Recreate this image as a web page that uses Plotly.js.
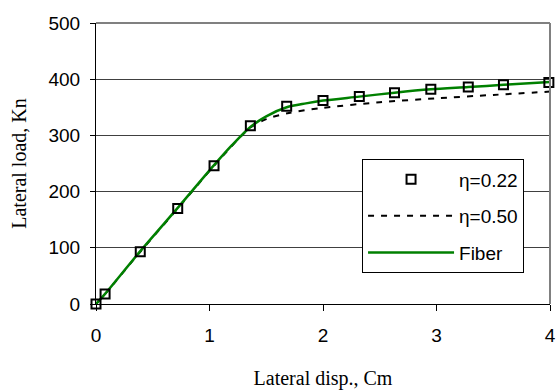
<!DOCTYPE html>
<html><head><meta charset="utf-8">
<script src="https://cdn.plot.ly/plotly-3.0.1.min.js"></script>
<style>html,body{margin:0;padding:0;background:#fff}#c{width:557px;height:390px}</style>
</head><body><div id="c"></div>
<script>
const eta22X = [0, 0.08, 0.39, 0.72, 1.04, 1.36, 1.68, 2.0, 2.32, 2.63, 2.95, 3.28, 3.59, 3.99];
const eta22Y = [0, 18, 93, 170, 246, 317, 352, 362, 369, 376, 382, 386, 390, 394];
const eta50X = [0, 0.08, 0.39, 0.72, 1.04, 1.36, 1.5, 1.7, 2.0, 2.5, 3.0, 3.5, 4.0];
const eta50Y = [0, 18, 93, 170, 246, 314, 329, 340, 349, 359, 366, 372, 378];
const fiberX = [0, 0.08, 0.39, 0.72, 1.04, 1.2, 1.36, 1.5, 1.68, 1.85, 2.0, 2.32, 2.63, 2.95, 3.28, 3.59, 4.0];
const fiberY = [0, 18, 94, 171, 247, 283, 315, 334, 350, 357, 362, 369, 376, 382, 386, 390, 395];
const xTicks = [0, 1, 2, 3, 4];
const yTicks = [0, 100, 200, 300, 400, 500];
const names = ['η=0.22', 'η=0.50', 'Fiber'];

const traces = [
  {x: eta50X, y: eta50Y, name: names[1], mode: 'lines', legendrank: 2, legendgroup: 'b',
   line: {color: '#000', width: 2, dash: '6px,7px', shape: 'spline', smoothing: 0.8}, cliponaxis: false},
  {x: fiberX, y: fiberY, name: names[2], mode: 'lines', legendrank: 3, legendgroup: 'c',
   line: {color: '#008000', width: 2.5, shape: 'spline', smoothing: 0.8}, cliponaxis: false},
  {x: eta22X, y: eta22Y, name: names[0], mode: 'markers', legendrank: 1, legendgroup: 'a',
   marker: {symbol: 'square-open', size: 9, color: '#000', line: {width: 2, color: '#000'}}, cliponaxis: false}
];

const layout = {
  width: 557, height: 390,
  margin: {l: 96, r: 7, t: 23, b: 86},
  paper_bgcolor: '#fff', plot_bgcolor: '#fff',
  font: {family: 'Liberation Sans, Arial, sans-serif', size: 19, color: '#000'},
  showlegend: true,
  legend: {x: 0.586, y: 0.515, xanchor: 'left', yanchor: 'top',
    bordercolor: '#000', borderwidth: 1, bgcolor: '#fff',
    font: {family: 'Liberation Sans, Arial, sans-serif', size: 19, color: '#000'},
    itemwidth: 86, tracegroupgap: 9, traceorder: 'grouped'},
  xaxis: {range: [0, 4], tickvals: xTicks, ticktext: xTicks.map(String),
    showgrid: false, zeroline: false, showline: true, linecolor: '#000', linewidth: 1,
    ticks: 'outside', ticklen: 6, tickcolor: '#000', ticklabelstandoff: 8,
    title: {text: 'Lateral disp., Cm', font: {family: 'Liberation Serif, Times New Roman, serif', size: 20, color: '#000'}, standoff: 26}},
  yaxis: {range: [0, 500], tickvals: yTicks, ticktext: yTicks.map(String),
    showgrid: true, gridcolor: '#404040', gridwidth: 1, zeroline: false,
    showline: true, linecolor: '#000', linewidth: 1,
    ticks: 'outside', ticklen: 5, tickcolor: '#000', ticklabelstandoff: 6,
    title: {text: 'Lateral load, Kn', font: {family: 'Liberation Serif, Times New Roman, serif', size: 20, color: '#000'}, standoff: 16}},
  shapes: [
    {type: 'line', xref: 'paper', yref: 'paper', x0: 0, x1: 1, y0: 1, y1: 1, line: {color: '#808080', width: 2}},
    {type: 'line', xref: 'paper', yref: 'paper', x0: 1, x1: 1, y0: 0, y1: 1, line: {color: '#808080', width: 2}}
  ]
};
Plotly.newPlot('c', traces, layout, {displayModeBar: false, staticPlot: true});
</script></body></html>
